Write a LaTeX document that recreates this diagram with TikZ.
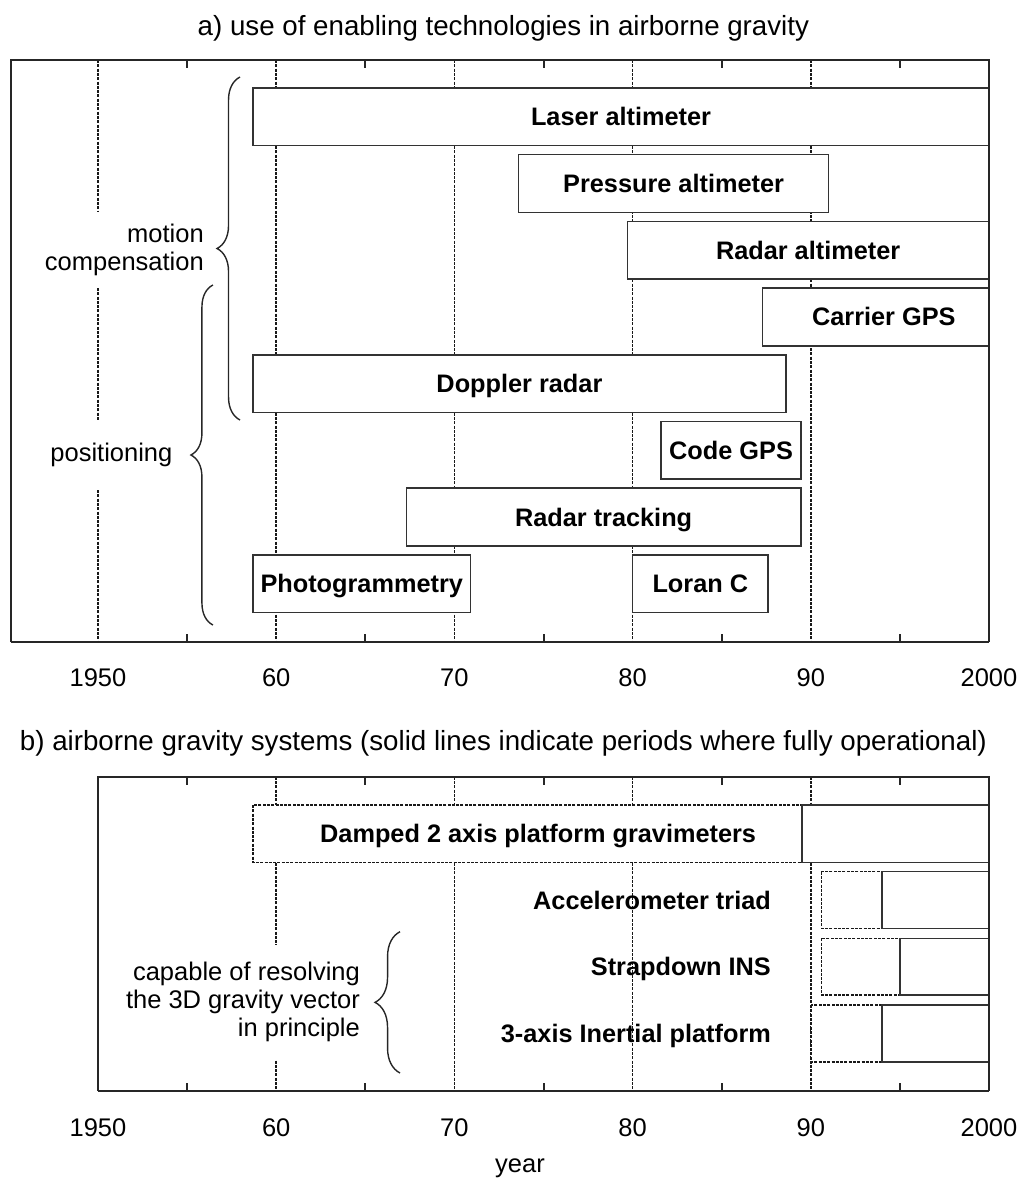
\documentclass[tikz,border=0pt]{standalone}
\usepackage{fontspec}
\setmainfont{Liberation Sans}
\usetikzlibrary{calc, decorations.pathreplacing}

\tikzset{
    grid line/.style={line width=1.5pt, dash pattern=on 3pt off 1.3pt, black!90},
    panel/.style={line width=2pt, black!85},
    axis line/.style={line width=2.6pt, black!85},
    bar/.style={draw=black!80, line width=1.5pt, fill=white},
    plan bar/.style={bar, draw=black!90, dash pattern=on 3pt off 1.3pt},
    bar text/.style={font=\fontsize{25.3}{28}\selectfont\bfseries,
        inner sep=0pt, text height=18pt, text depth=0pt},
    note/.style={font=\fontsize{25.5}{28}\selectfont, align=right,
        fill=white, inner xsep=4pt, inner ysep=12pt},
    yearlbl/.style={font=\fontsize{25.5}{28}\selectfont, inner sep=0pt,
        text height=18pt, text depth=0pt},
    heading/.style={font=\fontsize{27.7}{32}\selectfont, inner sep=0pt},
    curly/.style={decorate, decoration={brace, amplitude=#1},
        line width=1.4pt, black!85},
}

\begin{document}
\begin{tikzpicture}[x=17.82pt, y=-1pt]
    \useasboundingbox (-5.4994,0) rectangle (52.3008,1187);

    % a) enabling technologies
    \node[heading, anchor=base] (titleA) at (22.75,35)
        {a) use of enabling technologies in airborne gravity};

    \foreach \yr in {0,10,...,40}
        \draw[grid line] (\yr,60) -- (\yr,642);

    \draw[bar] (8.7,88) coordinate (la1) rectangle (50,145.7) coordinate (la2);
    \node[bar text] (laser) at ($(la1)!0.5!(la2)$) {Laser altimeter};
    \draw[bar] (23.6,154.7) coordinate (pa1) rectangle (41,212.4) coordinate (pa2);
    \node[bar text] (pressure) at ($(pa1)!0.5!(pa2)$) {Pressure altimeter};
    \draw[bar] (29.7,221.4) coordinate (ra1) rectangle (50,279.1) coordinate (ra2);
    \node[bar text] (radaralt) at ($(ra1)!0.5!(ra2)$) {Radar altimeter};
    \draw[bar] (37.3,288.1) coordinate (ca1) rectangle (50,345.8) coordinate (ca2);
    \node[bar text, xshift=8pt] (carrier) at ($(ca1)!0.5!(ca2)$) {Carrier GPS};
    \draw[bar] (8.7,354.8) coordinate (da1) rectangle (38.6,412.5) coordinate (da2);
    \node[bar text] (doppler) at ($(da1)!0.5!(da2)$) {Doppler radar};
    \draw[bar] (31.6,421.5) coordinate (co1) rectangle (39.45,479.2) coordinate (co2);
    \node[bar text] (code) at ($(co1)!0.5!(co2)$) {Code GPS};
    \draw[bar] (17.3,488.2) coordinate (rt1) rectangle (39.45,545.9) coordinate (rt2);
    \node[bar text] (tracking) at ($(rt1)!0.5!(rt2)$) {Radar tracking};
    \draw[bar] (8.7,554.9) coordinate (ph1) rectangle (20.9,612.6) coordinate (ph2);
    \node[bar text] (photo) at ($(ph1)!0.5!(ph2)$) {Photogrammetry};
    \draw[bar] (30,554.9) coordinate (lo1) rectangle (37.6,612.6) coordinate (lo2);
    \node[bar text] (loran) at ($(lo1)!0.5!(lo2)$) {Loran C};

    \draw[panel] (-4.882,642) -- (-4.882,60) -- (50,60) -- (50,642);
    \draw[axis line] (0,642) -- (50,642);
    \draw[panel, line width=1.2pt] (-4.882,642) -- (0,642);
    \foreach \yr in {5,15,...,45} {
        \draw[panel] (\yr,60) -- (\yr,68);
        \draw[panel] (\yr,642) -- (\yr,634);
    }

    \node[note, anchor=east] (motion) at (6.17,250) {motion\\compensation};
    \node[note, anchor=east, inner ysep=22pt] (positioning) at (4.41,455) {positioning};
    \draw[curly=23pt] (7.97,420) -- (7.97,77);
    \draw[curly=22pt] (6.45,625) -- (6.45,285);

    \foreach \yr/\txt in {0/1950,10/60,20/70,30/80,40/90,50/2000}
        \node[yearlbl] (ya\yr) at (\yr,677.5) {\txt};

    % b) gravity systems
    \node[heading, anchor=base] (titleB) at (22.75,750.7)
        {b) airborne gravity systems (solid lines indicate periods where fully operational)};

    \foreach \yr in {10,20,...,40}
        \draw[grid line] (\yr,776.7) -- (\yr,1091);

    \draw[plan bar] (8.7,805) rectangle (39.5,862.3);
    \draw[bar] (39.5,805) rectangle (50,862.3);
    \node[bar text] (damped) at (24.7,833.65) {Damped 2 axis platform gravimeters};
    \draw[plan bar] (40.6,871.7) rectangle (44,928.4);
    \draw[bar] (44,871.7) rectangle (50,928.4);
    \node[bar text, anchor=east] (triad) at (37.77,900.05) {Accelerometer triad};
    \draw[plan bar] (40.6,938.4) rectangle (45,995.1);
    \draw[bar] (45,938.4) rectangle (50,995.1);
    \node[bar text, anchor=east] (strapdown) at (37.77,966.75) {Strapdown INS};
    \draw[plan bar] (40,1005.1) rectangle (44,1061.8);
    \draw[bar] (44,1005.1) rectangle (50,1061.8);
    \node[bar text, anchor=east] (inertial) at (37.77,1033.45) {3-axis Inertial platform};

    \draw[panel] (0,1091) -- (0,776.7) -- (50,776.7) -- (50,1091);
    \draw[axis line] (0,1091) -- (50,1091);
    \foreach \yr in {5,15,...,45} {
        \draw[panel] (\yr,776.7) -- (\yr,784.7);
        \draw[panel] (\yr,1091) -- (\yr,1083);
    }

    \node[note, anchor=east, inner ysep=17pt] (capable) at (14.93,1001.7)
        {capable of resolving\\the 3D gravity vector\\in principle};
    \draw[curly=25pt] (16.95,1073) -- (16.95,931.7);

    \foreach \yr/\txt in {0/1950,10/60,20/70,30/80,40/90,50/2000}
        \node[yearlbl] (yb\yr) at (\yr,1127.5) {\txt};
    \node[yearlbl] (yearlabel) at (23.68,1163) {year};
\end{tikzpicture}
\end{document}
